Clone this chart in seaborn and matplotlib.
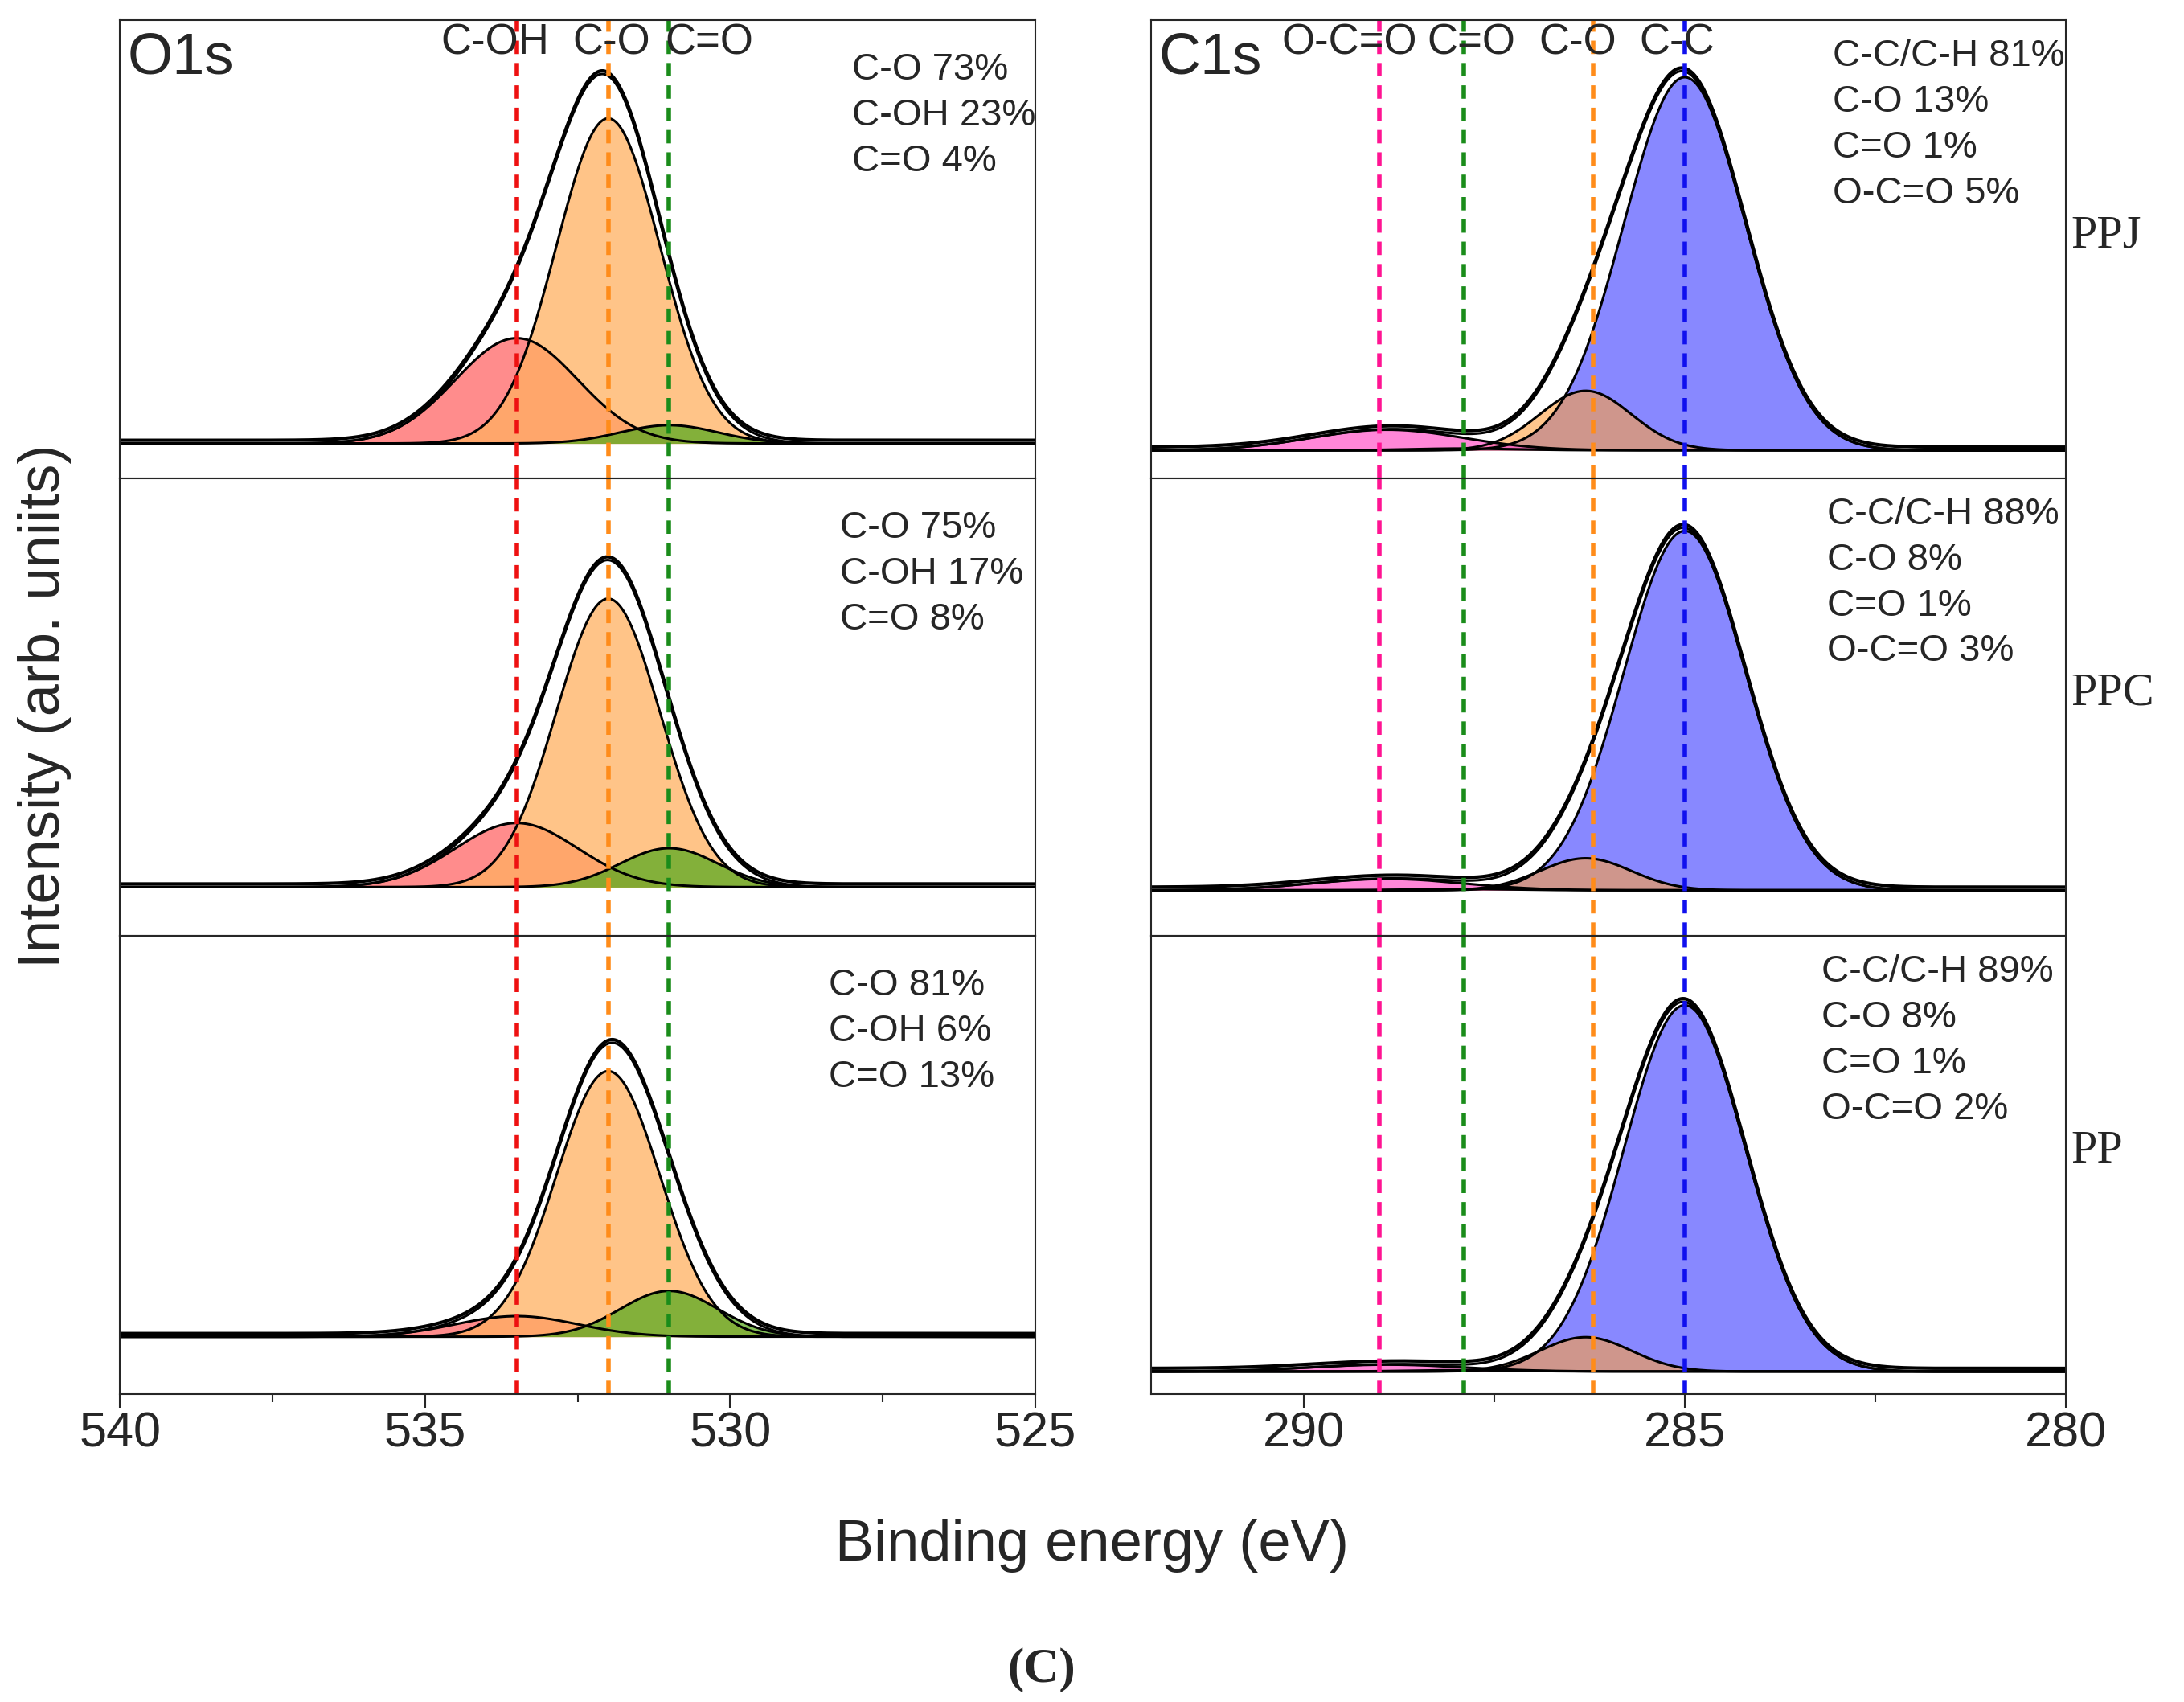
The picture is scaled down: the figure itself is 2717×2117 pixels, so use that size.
import numpy as np
import pandas as pd
import matplotlib.pyplot as plt
import seaborn as sns

sns.set_style("ticks")
plt.rcParams['font.family'] = ['Liberation Sans', 'DejaVu Sans']

samples = ["PPJ", "PPC", "PP"]

# O1s fitted components: centre (eV), height, sigma  -- per sample
o1s_names = ["C-OH", "C-O", "C=O"]
o1s_label_pos = [533.85, 531.95, 530.35]
o1s_centres = [533.5, 532.0, 531.0]
o1s_sigma = [1.0, 0.85, 0.8]
o1s_heights = {"PPJ": [0.23, 0.71, 0.04], "PPC": [0.14, 0.63, 0.085], "PP": [0.045, 0.58, 0.10]}
o1s_base = {"PPJ": 0.076, "PPC": 0.107, "PP": 0.125}
o1s_text = {"PPJ": ["C-O 73%", "C-OH 23%", "C=O 4%"],
            "PPC": ["C-O 75%", "C-OH 17%", "C=O 8%"],
            "PP": ["C-O 81%", "C-OH 6%", "C=O 13%"]}
o1s_colors = ["#ff4040", "#ffb060", "#5aaa20"]
o1s_lines = ["#ee1111", "#ff8c1a", "#1a8c1a"]

# C1s fitted components (drawn in this order)
c1s_names = ["C-C", "C-O", "C=O", "O-C=O"]
c1s_label_pos = [285.1, 286.4, 287.8, 289.4]
c1s_centres = [285.0, 286.3, 287.9, 288.9]
c1s_peak_pos = [285.0, 286.2, 287.9, 289.0]
c1s_sigma = [0.8, 0.6, 0.7, 1.0]
c1s_heights = {"PPJ": [0.815, 0.13, 0.004, 0.045], "PPC": [0.785, 0.07, 0.003, 0.025], "PP": [0.80, 0.075, 0.003, 0.015]}
c1s_base = {"PPJ": 0.061, "PPC": 0.10, "PP": 0.049}
c1s_text = {"PPJ": ["C-C/C-H 81%", "C-O 13%", "C=O 1%", "O-C=O 5%"],
            "PPC": ["C-C/C-H 88%", "C-O 8%", "C=O 1%", "O-C=O 3%"],
            "PP": ["C-C/C-H 89%", "C-O 8%", "C=O 1%", "O-C=O 2%"]}
c1s_colors = ["#6a6aff", "#ffa040", "#5aaa20", "#ff55c8"]
c1s_lines = ["#1010ee", "#ff8c1a", "#1a8c1a", "#ff1493"]

W, H = 2717, 2117
fig = plt.figure(figsize=(W / 100, H / 100), dpi=100)
tops = [0.988, 0.719, 0.450]
ph = 0.269


def draw(ax, xs, centres, sig, heights, base, fcols, alphas):
    total = np.full_like(xs, base)
    for c, s, h, fc, al in zip(centres, sig, heights, fcols, alphas):
        y = base + h * np.exp(-0.5 * ((xs - c) / s) ** 2)
        total += y - base
        ax.fill_between(xs, base, y, color=fc, alpha=al, lw=0)
        sns.lineplot(x=xs, y=y, ax=ax, color="black", lw=2.2)
    sns.lineplot(x=xs, y=total + 0.007, ax=ax, color="black", lw=3)
    sns.lineplot(x=xs, y=total, ax=ax, color="black", lw=2.2)


for i, s in enumerate(samples):
    b = tops[i] - ph
    # O1s
    ax = fig.add_axes([0.055, b, 0.419, ph])
    xs = np.linspace(525, 540, 600)
    draw(ax, xs, o1s_centres, o1s_sigma, o1s_heights[s], o1s_base[s], o1s_colors, [0.6, 0.75, 0.75])
    for c, lc in zip(o1s_centres, o1s_lines):
        ax.axvline(c, color=lc, ls=(0, (3, 2)), lw=4)
    ax.set_xlim(540, 525)
    ax.set_ylim(0, 1)
    ax.set_yticks([])
    for k, t in enumerate(o1s_text[s]):
        ax.text(0.80 - 0.013 * i, 0.93 - k * 0.1, t, transform=ax.transAxes, fontsize=34, va="top")
    # C1s
    ax2 = fig.add_axes([0.527, b, 0.419, ph])
    xs2 = np.linspace(280, 292, 600)
    draw(ax2, xs2, c1s_centres, c1s_sigma, c1s_heights[s], c1s_base[s], c1s_colors, [0.8, 0.6, 0.7, 0.7])
    for c, lc in zip(c1s_peak_pos, c1s_lines):
        ax2.axvline(c, color=lc, ls=(0, (3, 2)), lw=4)
    ax2.set_xlim(292, 280)
    ax2.set_ylim(0, 1)
    ax2.set_yticks([])
    for k, t in enumerate(c1s_text[s]):
        ax2.text(0.745 - 0.006 * i, 0.96 - k * 0.1, t, transform=ax2.transAxes, fontsize=34, va="top")
    ax2.text(1.005, 0.53, s, transform=ax2.transAxes, fontsize=42, family="Liberation Serif", va="center")
    for a in (ax, ax2):
        for sp in a.spines.values():
            sp.set_linewidth(1.5)
        if i < 2:
            a.set_xticks([])
        else:
            a.tick_params(axis="x", labelsize=44, length=12, width=1.5, direction="out")
    if i == 0:
        ax.text(0.008, 0.975, "O1s", transform=ax.transAxes, fontsize=52, va="top")
        ax2.text(0.008, 0.975, "C1s", transform=ax2.transAxes, fontsize=52, va="top")
        for n, c in zip(o1s_names, o1s_label_pos):
            ax.text(c, 0.95, n, fontsize=38, ha="center", va="center")
        for n, c in zip(c1s_names, c1s_label_pos):
            ax2.text(c, 0.95, n, fontsize=38, ha="center", va="center")
    if i == 2:
        ax.set_xticks([540, 535, 530, 525])
        ax.set_xticks([537.5, 532.5, 527.5], minor=True)
        ax2.set_xticks([290, 285, 280])
        ax2.set_xticks([287.5, 282.5], minor=True)
        ax.tick_params(axis="x", which="minor", length=7, width=1.5)
        ax2.tick_params(axis="x", which="minor", length=7, width=1.5)

fig.text(0.5, 0.083, "Binding energy (eV)", fontsize=52, ha="center")
fig.text(0.008, 0.585, "Intensity (arb. uniits)", fontsize=52, rotation=90, va="center")
fig.text(0.477, 0.012, "(C)", fontsize=44, ha="center", family="Liberation Serif", weight="bold")
fig.savefig("out.png", dpi=100)
